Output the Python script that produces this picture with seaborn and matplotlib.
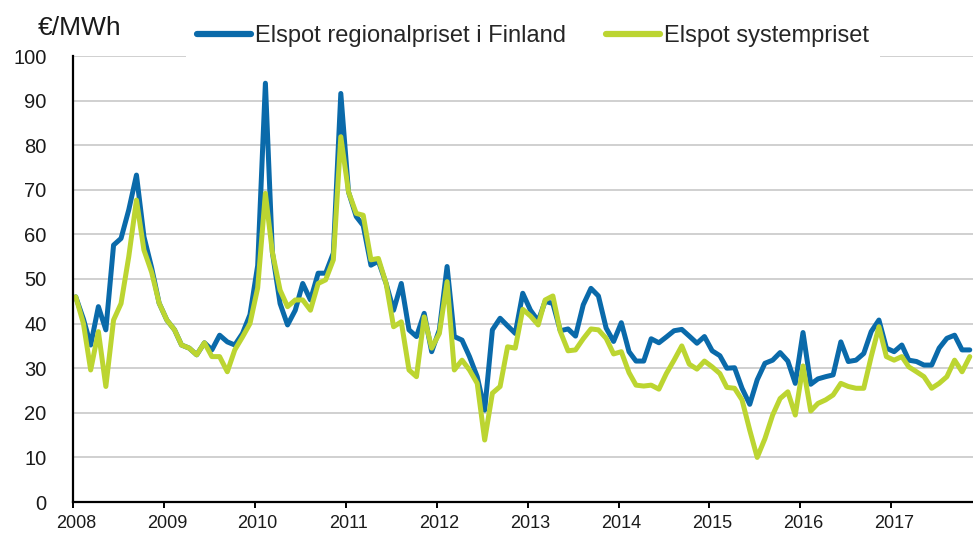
import numpy as np
import pandas as pd
import matplotlib

matplotlib.use('Agg')
import matplotlib.pyplot as plt
import matplotlib.dates as mdates
from matplotlib.transforms import ScaledTranslation
import seaborn as sns

# Månadsvärden jan 2008 - nov 2017 (€/MWh)
finland = [
    46.0, 41.0, 35.2, 43.8, 38.6, 57.6, 59.1, 65.5, 73.3, 59.5, 52.5, 44.6,   # 2008
    40.8, 38.6, 35.2, 34.5, 33.0, 35.7, 34.1, 37.4, 35.9, 35.2, 37.8, 42.0,   # 2009
    53.0, 93.9, 56.0, 44.5, 39.7, 43.0, 49.0, 45.3, 51.3, 51.3, 55.8, 91.6,   # 2010
    69.5, 64.0, 62.0, 53.1, 54.0, 49.0, 43.0, 49.0, 38.6, 37.1, 42.3, 33.7,   # 2011
    38.6, 52.8, 37.1, 36.3, 32.6, 28.1, 20.6, 38.6, 41.2, 39.5, 37.8, 46.8,   # 2012
    43.0, 40.6, 45.0, 44.5, 38.4, 38.8, 37.2, 44.2, 47.9, 46.2, 39.0, 36.0,   # 2013
    40.2, 33.7, 31.6, 31.6, 36.6, 35.7, 37.0, 38.4, 38.7, 37.2, 35.6, 37.1,   # 2014
    33.9, 32.8, 30.0, 30.1, 25.5, 21.9, 27.4, 31.1, 31.8, 33.5, 31.6, 26.6,   # 2015
    38.0, 26.4, 27.6, 28.1, 28.5, 35.9, 31.5, 31.8, 33.3, 38.2, 40.8, 34.5,   # 2016
    33.7, 35.2, 31.8, 31.5, 30.7, 30.7, 34.5, 36.7, 37.4, 34.1, 34.1,         # 2017
]
system = [
    46.0, 40.0, 29.6, 38.2, 25.9, 40.8, 44.5, 55.0, 67.7, 56.5, 51.5, 44.6,
    40.8, 38.6, 35.2, 34.5, 33.0, 35.7, 32.6, 32.6, 29.2, 34.1, 37.0, 40.0,
    48.0, 69.2, 56.0, 47.5, 43.8, 45.3, 45.3, 43.0, 49.0, 49.8, 54.3, 81.9,
    69.5, 64.7, 64.3, 54.3, 54.6, 49.0, 39.3, 40.4, 29.6, 28.1, 41.5, 34.5,
    37.8, 49.4, 29.6, 31.8, 29.6, 26.6, 13.9, 24.4, 25.9, 34.8, 34.5, 43.2,
    41.7, 39.7, 45.3, 46.2, 38.2, 33.9, 34.1, 36.6, 38.8, 38.6, 36.7, 33.2,
    33.7, 29.0, 26.2, 26.0, 26.2, 25.3, 28.8, 31.8, 35.0, 30.9, 29.8, 31.6,
    30.3, 28.8, 25.7, 25.5, 22.9, 16.1, 10.0, 14.2, 19.5, 23.2, 24.7, 19.5,
    30.5, 20.4, 22.1, 22.9, 24.0, 26.6, 25.9, 25.5, 25.5, 32.6, 39.3, 32.6,
    31.8, 32.6, 30.3, 29.2, 28.1, 25.5, 26.6, 28.1, 31.8, 29.2, 32.6,
]
series_names = ['Elspot regionalpriset i Finland', 'Elspot systempriset']
colors = {'Elspot regionalpriset i Finland': '#0a6aaa', 'Elspot systempriset': '#bcd531'}
years = list(range(2008, 2018))

# en punkt mitt i varje månad
months = pd.date_range('2008-01-01', periods=len(finland), freq='MS') + pd.Timedelta(days=11)
df = pd.concat([
    pd.DataFrame({'month': months, 'price': finland, 'serie': series_names[0]}),
    pd.DataFrame({'month': months, 'price': system, 'serie': series_names[1]}),
])

sns.set_style('white')
plt.rcParams['font.family'] = ['Liberation Sans', 'DejaVu Sans']

fig = plt.figure(figsize=(9.73, 5.38), dpi=100)
ax = fig.add_axes([73 / 973, 36 / 538, 900 / 973, 446 / 538])

sns.lineplot(data=df, x='month', y='price', hue='serie', hue_order=series_names,
             palette=colors, linewidth=3.6, ax=ax)

ax.set_ylim(0, 100)
ax.set_yticks(range(0, 101, 10))
ax.set_xlim(pd.Timestamp('2008-01-01'), pd.Timestamp('2017-11-25'))
ax.set_xticks([pd.Timestamp(f'{y}-01-01') for y in years])
ax.xaxis.set_major_formatter(mdates.DateFormatter('%Y'))
ax.set_xlabel('')
ax.set_ylabel('')

ax.grid(axis='y', color='#c8c8c8', linewidth=1.2)
ax.grid(axis='x', visible=False)
ax.set_axisbelow(True)
for side in ['top', 'right']:
    ax.spines[side].set_visible(False)
for side in ['left', 'bottom']:
    ax.spines[side].set_color('black')
    ax.spines[side].set_linewidth(1.6)

ax.tick_params(axis='y', length=0, pad=19, labelsize=14.5, labelcolor='#1a1a1a')
ax.tick_params(axis='x', length=4, width=1.4, color='black', direction='out',
               pad=5, labelsize=13, labelcolor='#1a1a1a', bottom=True)
for lab in ax.get_xticklabels():
    lab.set_transform(lab.get_transform() + ScaledTranslation(2 / 72, 0, fig.dpi_scale_trans))

handles, labels = ax.get_legend_handles_labels()
leg = ax.legend(handles, labels, ncol=2, loc='center', bbox_to_anchor=(533 / 973, 1 - 36 / 538),
                bbox_transform=fig.transFigure, frameon=True, fancybox=False,
                facecolor='white', edgecolor='none', framealpha=1, fontsize=17,
                handlelength=2.3, handletextpad=0.15, columnspacing=1.7, borderpad=0.45)
for line in leg.get_lines():
    line.set_linewidth(4.5)

fig.text(38 / 973, 1 - 28 / 538, '€/MWh', fontsize=19, ha='left', va='center', color='#1a1a1a')

fig.savefig('out.png', dpi=100)
